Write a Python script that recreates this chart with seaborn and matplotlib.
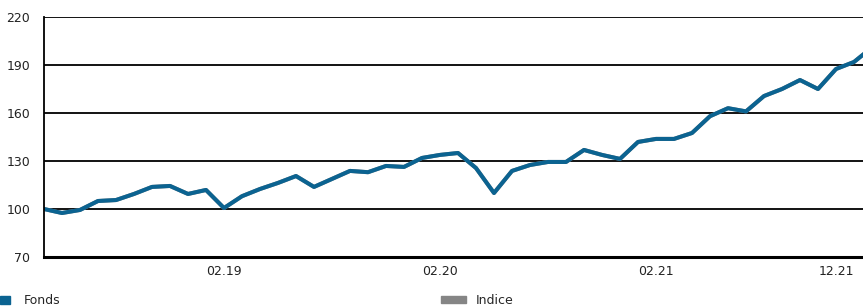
import numpy as np
import pandas as pd
import matplotlib
matplotlib.use('Agg')
import matplotlib.pyplot as plt
import seaborn as sns
from matplotlib.patches import Patch

# données mensuelles, indice 0 = 04.18
mois = list(range(47))
fonds = [100, 97.5, 99.4, 105, 105.6, 109.4, 113.8, 114.4, 109.4, 111.9,
         100.6, 108, 112.5, 116.3, 120.6, 113.8, 118.8, 123.8, 123, 126.9,
         126.3, 131.9, 133.8, 135, 125.6, 110, 123.8, 127.5, 129.4, 129.4,
         136.9, 133.8, 131.3, 141.9, 143.8, 143.8, 147.5, 158, 163, 161,
         170.6, 175, 180.6, 175, 187.5, 191.9, 201]
indice = list(fonds)  # indice caché sous la courbe du fonds

tick_pos = [10, 22, 34, 44]
tick_labels = ['02.19', '02.20', '02.21', '12.21']
y_ticks = [70, 100, 130, 160, 190, 220]

df = pd.DataFrame({'mois': mois, 'Fonds': fonds, 'Indice': indice})

sns.set_style('white')
plt.rcParams['font.family'] = ['DejaVu Sans']

fig = plt.figure(figsize=(8.63, 3.08), dpi=100)
ax = fig.add_axes([44/863, 1 - 257/308, 1 - 44/863, 240/308])

bleu = '#0b6391'
gris = '#858585'
sns.lineplot(data=df, x='mois', y='Indice', color=gris, linewidth=2.9, ax=ax)
sns.lineplot(data=df, x='mois', y='Fonds', color=bleu, linewidth=2.9, ax=ax)

ax.set_xlim(0, 45.5)
ax.set_ylim(70, 220)
ax.set_yticks(y_ticks)
ax.set_xticks(tick_pos)
ax.set_xticklabels(tick_labels)
ax.set_xlabel('')
ax.set_ylabel('')
ax.tick_params(axis='both', length=0, labelsize=9, colors='#222222')
ax.tick_params(axis='y', pad=10)
ax.tick_params(axis='x', pad=6)
ax.grid(axis='y', color='black', linewidth=1.3)
ax.set_axisbelow(True)
for s in ['top', 'right']:
    ax.spines[s].set_visible(False)
ax.spines['left'].set_color('black')
ax.spines['left'].set_linewidth(1.3)
ax.spines['bottom'].set_color('black')
ax.spines['bottom'].set_linewidth(2.2)

# légende en bas (coupée par le bord de l'image comme dans l'original)
fig.legend(handles=[Patch(color=bleu, label='Fonds')], loc='upper left',
           bbox_to_anchor=(0.0, 0.045), frameon=False, fontsize=9,
           handlelength=0.8, handleheight=0.6, handletextpad=1.1,
           borderaxespad=0, borderpad=0)
fig.legend(handles=[Patch(color=gris, label='Indice')], loc='upper left',
           bbox_to_anchor=(441/863, 0.045), frameon=False, fontsize=9,
           handlelength=2.0, handleheight=0.5, handletextpad=0.8,
           borderaxespad=0, borderpad=0)

fig.savefig('out.png', dpi=100)
